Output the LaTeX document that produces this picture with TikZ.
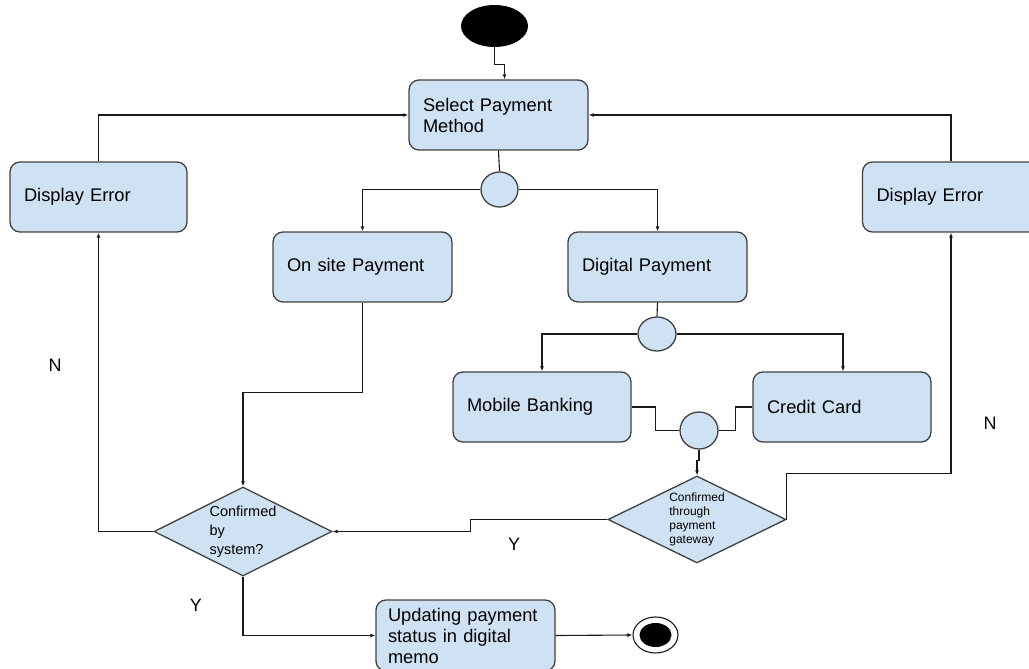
\documentclass[tikz,border=0pt]{standalone}
\usepackage{fontspec}
\setmainfont{Liberation Sans}
\usetikzlibrary{arrows.meta,positioning,shapes.geometric}
\definecolor{boxfill}{HTML}{CFE2F3}
\definecolor{boxline}{HTML}{404040}
\definecolor{wire}{HTML}{1A1A1A}
\tikzset{
  boxtext/.style={font=\fontsize{18.3}{21}\selectfont,text=black,align=left},
  action/.style={boxtext,rounded corners=10pt,draw=boxline,fill=boxfill,line width=1.3pt,minimum width=179pt,minimum height=70pt,text width=151pt,inner xsep=14pt,inner ysep=0pt},
  forkc/.style={ellipse,draw=boxline,fill=boxfill,line width=1.3pt,minimum width=37pt,minimum height=35pt,inner sep=0pt},
  decision/.style={diamond,shape aspect=2,draw=boxline,fill=boxfill,line width=1.3pt,minimum width=178pt,minimum height=88pt,inner sep=0pt,align=left},
  yn/.style={font=\fontsize{18}{21}\selectfont},
  arr/.style={-{Latex[length=5pt,width=4pt]},draw=wire,line width=1.1pt},
  link/.style={draw=wire,line width=1.1pt}
}
\begin{document}
\begin{tikzpicture}[x=1pt,y=-1pt]
\path[use as bounding box] (0,0) rectangle (1029,669);
\node[ellipse,fill=black,minimum width=67pt,minimum height=42pt,inner sep=0pt] (start) at (494.5,26) {};
\node[action] (sel) at (498.5,115) {Select Payment\\Method};
\node[forkc] (fork1) at (499.5,189.5) {};
\node[action,minimum width=177pt,text width=149pt] (errL) at (98.5,197) {Display Error};
\node[action,minimum width=177pt,text width=149pt] (errR) at (951,197) {Display Error};
\node[action] (onsite) at (362.5,267) {On site Payment};
\node[action] (digital) at (657.5,267) {Digital Payment};
\node[forkc,minimum width=38pt,minimum height=34pt] (fork2) at (657,334) {};
\node[action,minimum width=178pt,text width=150pt] (mobile) at (542,407) {Mobile Banking};
\node[action,minimum width=178pt,text width=150pt] (credit) at (842,407) {Credit Card};
\node[forkc,minimum width=38pt,minimum height=37pt] (join) at (699,430.5) {};
\node[decision,font=\fontsize{12}{14}\selectfont,minimum height=87pt] (gw) at (697,519.5) {Confirmed\\through\\payment\\gateway};
\node[decision,font=\fontsize{14.5}{19}\selectfont,minimum height=89pt] (sys) at (243,531.5) {Confirmed\\by\\system?};
\node[action,minimum height=71pt,inner xsep=12pt,text width=155pt] (upd) at (465.5,635.5) {Updating payment\\status in digital\\memo};
\node[ellipse,draw=wire,line width=1.1pt,fill=white,minimum width=45pt,minimum height=36pt,inner sep=0pt] (stop) at (655.5,635) {};
\node[ellipse,fill=black,minimum width=32pt,minimum height=24pt,inner sep=0pt] (stopdot) at (stop) {};
\node[yn] (nL) at (55,365) {N}; \node[yn] (nR) at (990,423) {N};
\node[yn] (yGw) at (514,544) {Y}; \node[yn] (ySys) at (196,605) {Y};
\draw[arr] (start.south) -- ++(0,17) -| ([xshift=6pt]sel.north);
\draw[link] (sel.south) -- (fork1.north);
\draw[arr] (fork1.west) -| (onsite.north); \draw[arr] (fork1.east) -| (digital.north);
\draw[link] (digital.south) -- (fork2.north);
\draw[arr] (fork2.west) -| (mobile.north); \draw[arr] (fork2.east) -| ([xshift=1pt]credit.north);
\draw[link] (mobile.east) -- ++(24,0) |- (join.west); \draw[link] (credit.west) -- ++(-17,0) |- (join.east);
\draw[arr] (join.south) -- ++(0,11) -| (gw.north);
\draw[arr] (onsite.south) -- ++(0,90) -| (sys.north);
\draw[arr] (gw.west) -- ++(-137,0) |- (sys.east);
\draw[arr] (gw.east) -- ++(0,-46) -| (errR.south);
\draw[arr] (sys.west) -| (errL.south);
\draw[arr] (errL.north) |- (sel.west); \draw[arr] (errR.north) |- (sel.east);
\draw[arr] (sys.south) |- (upd.west);
\draw[arr] (upd.east) -- (stop.west);
\end{tikzpicture}
\end{document}
